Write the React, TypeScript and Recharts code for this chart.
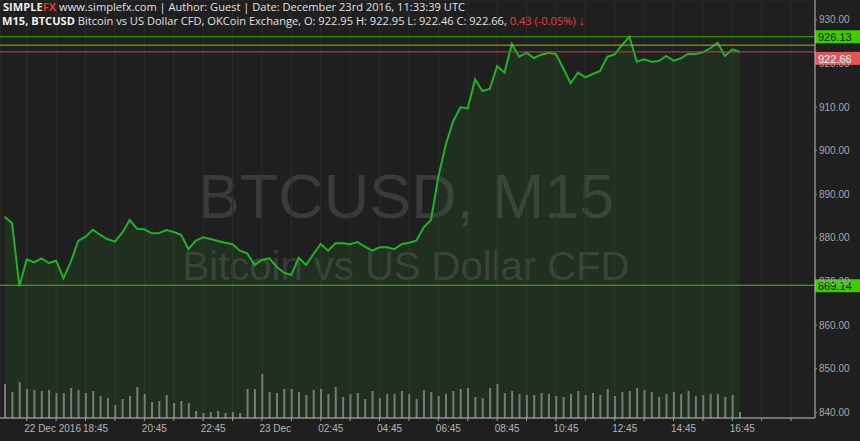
import React from "react";
import {
  ComposedChart,
  Area,
  Bar,
  XAxis,
  YAxis,
  CartesianGrid,
  ReferenceLine,
} from "recharts";

// 15-minute bars, index 0 = 22 Dec 2016 16:00
const prices: number[] = [
  884.86, 883.35, 868.9, 875.09, 874.4, 875.32, 874.24, 874.77, 870.73, 874.54,
  879.29, 880.28, 881.88, 880.67, 879.68, 879.13, 881.19, 884.11, 882.11, 881.97,
  881.06, 881.12, 881.81, 881.35, 880.73, 877.39, 879.36, 880.14, 879.75, 879.29,
  878.9, 878.53, 877.06, 876.47, 873.78, 874.93, 875.32, 873.39, 872.02, 871.49,
  875.46, 873.78, 876.24, 878.6, 877.06, 878.76, 878.76, 878.53, 879.06, 877.98,
  877.06, 877.84, 877.84, 877.39, 878.53, 878.9, 879.36, 882.39, 884.11, 894.04,
  901.31, 906.65, 909.95, 909.72, 916.38, 913.69, 914.15, 919.43, 917.89, 924.47,
  921.56, 922.48, 921.26, 922.02, 922.48, 922.18, 918.9, 915.46, 917.89, 916.83,
  917.59, 918.28, 921.56, 922.11, 924.24, 926.13, 920.41, 920.96, 920.41, 920.57,
  921.72, 920.64, 921.19, 922.25, 922.18, 922.57, 923.49, 924.77, 921.72, 923.26,
  922.66,
];

const volumes: number[] = [
  34, 26, 36, 29, 28, 27, 28, 25, 25, 30,
  28, 25, 27, 22, 20, 13, 19, 22, 31, 24,
  16, 17, 23, 15, 17, 15, 7, 5, 6, 7,
  5, 6, 5, 29, 29, 44, 26, 25, 29, 29,
  26, 23, 28, 29, 24, 31, 21, 24, 25, 19,
  27, 20, 24, 24, 27, 24, 19, 28, 26, 22,
  24, 27, 29, 30, 21, 20, 30, 34, 25, 27,
  24, 23, 23, 25, 24, 22, 21, 24, 27, 23,
  25, 23, 29, 22, 26, 27, 30, 28, 26, 21,
  24, 26, 24, 27, 22, 23, 24, 24, 21, 23,
  6,
];

// hourly ticks (bar index), labels every two hours
const xTicks: number[] = [
  3, 7, 11, 15, 19, 23, 27, 31, 35, 39, 43, 47, 51, 55, 59, 63, 67, 71, 75, 79,
  83, 87, 91, 95, 99, 103, 107,
];
const xTickLabels: string[] = [
  "22 Dec 2016", "", "18:45", "", "20:45", "", "22:45", "", "23 Dec", "",
  "02:45", "", "04:45", "", "06:45", "", "08:45", "", "10:45", "", "12:45", "",
  "14:45", "", "16:45", "", "",
];
const yTicks: number[] = [840, 850, 860, 870, 880, 890, 900, 910, 920, 930];

const highLevel = 926.13;
const askLevel = 924.2;
const closeLevel = 922.66;
const lowLevel = 869.14;

const data = prices.map((p, i) => ({ i, price: p, volume: volumes[i] }));

const BG = "#1f1f1f";
const GREEN = "#22b02c";
const AXIS_FONT = "'Liberation Sans', Arial, Helvetica, sans-serif";

const XTick = (props: any) => {
  const { x, y, payload } = props;
  const idx = xTicks.indexOf(payload.value);
  const label = idx >= 0 ? xTickLabels[idx] : "";
  return (
    <g>
      <line x1={x} y1={y} x2={x} y2={y + 3} stroke="#9a9a9a" strokeWidth={1} />
      {label ? (
        <text
          x={x - 2.5}
          y={y + 10.5}
          fill="#b4b4b4"
          fontSize={10}
          fontFamily={AXIS_FONT}
          textAnchor="start"
          dominantBaseline="central"
        >
          {label}
        </text>
      ) : null}
    </g>
  );
};

const PriceBox = (bg: string, fg: string, dy: number, value: number) => (
  props: any
) => {
  const { viewBox } = props;
  const x = viewBox.x + viewBox.width;
  const y = viewBox.y;
  return (
    <g>
      <rect x={x} y={y + dy} width={45} height={13} fill={bg} />
      <text
        x={x + 3}
        y={y + dy + 6.8}
        fill={fg}
        fontSize={11}
        fontFamily={AXIS_FONT}
        dominantBaseline="central"
      >
        {value.toFixed(2)}
      </text>
    </g>
  );
};

export default function App() {
  return (
    <div
      style={{
        position: "absolute",
        left: 0,
        top: 0,
        width: 860,
        height: 441,
        background: BG,
        overflow: "hidden",
      }}
    >
      <svg
        width={860}
        height={441}
        style={{ position: "absolute", left: 0, top: 0 }}
      >
        <text
          x={406}
          y={218}
          fontSize={63}
          fontFamily={AXIS_FONT}
          fill="#3a3a3a"
          textAnchor="middle"
        >
          BTCUSD, M15
        </text>
        <text
          x={406}
          y={280}
          fontSize={40}
          fontFamily={AXIS_FONT}
          fill="#3a3a3a"
          textAnchor="middle"
        >
          Bitcoin vs US Dollar CFD
        </text>
      </svg>
      <div style={{ position: "absolute", left: 0, top: 0 }}>
        <ComposedChart
          width={860}
          height={441}
          data={data}
          margin={{ top: 0, right: 0, bottom: 0, left: 0 }}
        >
          <CartesianGrid stroke="#2c2c2c" strokeWidth={1} />
          <XAxis
            dataKey="i"
            type="number"
            domain={[-0.64, 110.25]}
            allowDataOverflow
            ticks={xTicks}
            interval={0}
            height={23}
            axisLine={{ stroke: "#bdbdbd" }}
            tickLine={false}
            tickSize={0}
            tickMargin={0}
            tick={<XTick />}
          />
          <YAxis
            yAxisId="price"
            orientation="right"
            type="number"
            domain={[838.69, 934.56]}
            allowDataOverflow
            ticks={yTicks}
            interval={0}
            width={45}
            axisLine={{ stroke: "#bdbdbd" }}
            tickLine={{ stroke: "#9a9a9a" }}
            tickSize={2}
            tickMargin={2}
            tick={{ fill: "#a6a6a6", fontSize: 10, fontFamily: AXIS_FONT }}
            tickFormatter={(v: number) => v.toFixed(2)}
          />
          <YAxis yAxisId="vol" hide domain={[0, 418]} allowDataOverflow />
          <Bar
            yAxisId="vol"
            dataKey="volume"
            barSize={2}
            fill="#7a7a7a"
            isAnimationActive={false}
          />
          <Area
            yAxisId="price"
            type="linear"
            dataKey="price"
            stroke={GREEN}
            strokeWidth={2}
            fill="#2f9a2f"
            fillOpacity={0.13}
            dot={false}
            activeDot={false}
            isAnimationActive={false}
          />
          <ReferenceLine
            yAxisId="price"
            y={lowLevel}
            stroke="#4cbc1c"
            strokeWidth={1}
            label={PriceBox("#3ecc00", "#102000", -6, lowLevel)}
          />
          <ReferenceLine
            yAxisId="price"
            y={askLevel}
            stroke="#a0b81a"
            strokeWidth={1}
          />
          <ReferenceLine
            yAxisId="price"
            y={closeLevel}
            stroke="#b84848"
            strokeWidth={1}
            label={PriceBox("#e05555", "#ffffff", 0, closeLevel)}
          />
          <ReferenceLine
            yAxisId="price"
            y={highLevel}
            stroke="#44a818"
            strokeWidth={1}
            label={PriceBox("#3ecc00", "#102000", -6.5, highLevel)}
          />
        </ComposedChart>
      </div>
      <svg
        width={860}
        height={30}
        style={{ position: "absolute", left: 0, top: 0, pointerEvents: "none" }}
      >
        <text
          x={3}
          y={11}
          fontSize={11.1}
          fontFamily="'Open Sans', sans-serif"
          fill="#e0e0e0"
        >
          <tspan fontWeight="bold" fill="#ececec">SIMPLE</tspan>
          <tspan fontWeight="bold" fill="#e8322c">FX</tspan>
          <tspan> www.simplefx.com | Author: Guest | Date: December 23rd 2016, 11:33:39 UTC</tspan>
        </text>
        <text
          x={2}
          y={25}
          fontSize={11.1}
          fontFamily="'Open Sans', sans-serif"
          fill="#e0e0e0"
        >
          <tspan fontWeight="bold" fill="#f0f0f0">M15, BTCUSD</tspan>
          <tspan> Bitcoin vs US Dollar CFD, OKCoin Exchange, O: 922.95 H: 922.95 L: 922.46 C: 922.66, </tspan>
          <tspan fill="#e84040"> 0.43 (-0.05%) </tspan>
          <tspan fill="#e84040" fontWeight="bold" fontSize={13}>↓</tspan>
        </text>
      </svg>
    </div>
  );
}
